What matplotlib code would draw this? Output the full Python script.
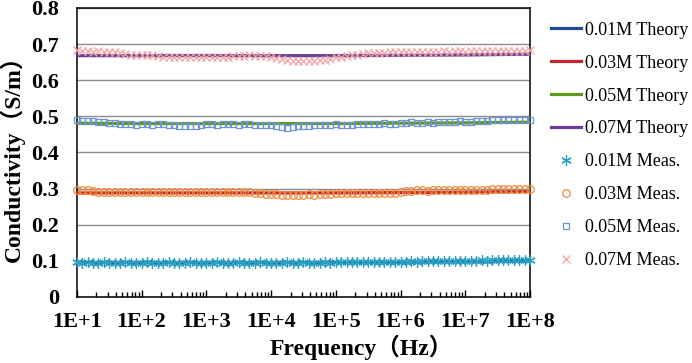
"""
Conductivity vs frequency: theory lines and measured points for four concentrations.
"""

import matplotlib

matplotlib.use("Agg")
import matplotlib.pyplot as plt
import numpy as np

SERIF = ["Liberation Serif", "Noto Sans CJK SC"]

# theory curves, one value per decade (1E+1 ... 1E+8)
theory_freq = [1e1, 1e2, 1e3, 1e4, 1e5, 1e6, 1e7, 1e8]
theory_001 = [0.095, 0.095, 0.095, 0.095, 0.095, 0.096, 0.097, 0.099]
theory_003 = [0.288, 0.288, 0.288, 0.288, 0.288, 0.289, 0.290, 0.292]
theory_005 = [0.481, 0.480, 0.480, 0.480, 0.480, 0.481, 0.482, 0.484]
theory_007 = [0.668, 0.668, 0.668, 0.668, 0.668, 0.669, 0.670, 0.672]

# measured sweep: 12 points per decade, 1E+1 to 1E+8
meas_freq = np.logspace(1, 8, 85)

meas_001 = [
    0.097,
    0.095, 0.096, 0.095, 0.095, 0.096, 0.095, 0.095, 0.095, 0.096, 0.095,
    0.095, 0.095, 0.096, 0.095, 0.095, 0.095, 0.096, 0.095, 0.095, 0.095,
    0.096, 0.095, 0.095, 0.095, 0.095, 0.096, 0.095, 0.095, 0.095, 0.096,
    0.095, 0.095, 0.095, 0.096, 0.095, 0.095, 0.095, 0.095, 0.096, 0.095,
    0.095, 0.096, 0.095, 0.095, 0.095, 0.096, 0.095, 0.096, 0.096,
    0.097, 0.097, 0.097, 0.097, 0.098, 0.097, 0.098, 0.098, 0.098, 0.098,
    0.098, 0.098, 0.099, 0.098, 0.099, 0.099, 0.099, 0.099, 0.099, 0.099,
    0.100, 0.100, 0.100, 0.100, 0.100, 0.101, 0.100, 0.101, 0.101, 0.101,
    0.101, 0.101, 0.101, 0.101, 0.102,
]
meas_003 = [
    0.296,
    0.296, 0.295, 0.293,
    0.291, 0.291, 0.290, 0.291, 0.291, 0.290, 0.291, 0.291, 0.291, 0.290,
    0.291, 0.291, 0.290, 0.291, 0.291, 0.291, 0.290, 0.291, 0.291, 0.290,
    0.291, 0.291, 0.290, 0.291, 0.290, 0.290, 0.291, 0.290, 0.290, 0.289,
    0.288,
    0.286, 0.285, 0.284, 0.283, 0.283, 0.282, 0.283, 0.283, 0.284, 0.283,
    0.284, 0.285, 0.286,
    0.287, 0.287, 0.288, 0.287, 0.288, 0.288, 0.287, 0.288, 0.288, 0.288,
    0.289, 0.289, 0.290,
    0.294, 0.294, 0.295, 0.295, 0.294, 0.295, 0.295, 0.295, 0.296, 0.295,
    0.295, 0.296, 0.296, 0.296, 0.296, 0.297,
    0.298, 0.298, 0.299, 0.298, 0.299, 0.299, 0.299, 0.300,
]
meas_005 = [
    0.490,
    0.488, 0.487, 0.486, 0.485,
    0.483, 0.482, 0.481, 0.480,
    0.478, 0.478, 0.477, 0.478, 0.478, 0.477, 0.478, 0.478, 0.477, 0.477,
    0.474, 0.473, 0.473, 0.474,
    0.477, 0.478, 0.478, 0.477, 0.478, 0.478, 0.478, 0.477, 0.478, 0.478,
    0.477, 0.477, 0.476,
    0.475, 0.474,
    0.470, 0.469, 0.470,
    0.473, 0.474, 0.474, 0.475, 0.476,
    0.477, 0.477, 0.478, 0.477, 0.477, 0.477,
    0.479, 0.480, 0.480, 0.480, 0.480, 0.481, 0.480, 0.480,
    0.482, 0.482, 0.483, 0.482, 0.482, 0.483, 0.482, 0.483, 0.483,
    0.485, 0.485, 0.486, 0.485, 0.485, 0.486, 0.486, 0.486,
    0.489, 0.489, 0.490, 0.489, 0.490, 0.490, 0.490, 0.491,
]
meas_007 = [
    0.683,
    0.680, 0.681, 0.679, 0.680, 0.678, 0.679, 0.677, 0.676,
    0.672, 0.671, 0.670, 0.671, 0.670, 0.669, 0.668,
    0.665, 0.664, 0.664, 0.665, 0.664, 0.663, 0.664, 0.665, 0.664, 0.664,
    0.665, 0.664, 0.665, 0.666, 0.667,
    0.668, 0.669, 0.668, 0.668, 0.667, 0.665, 0.662,
    0.658, 0.655, 0.653, 0.652, 0.652, 0.653, 0.654, 0.655, 0.657,
    0.660, 0.663, 0.665, 0.667, 0.669, 0.671,
    0.673, 0.674, 0.675, 0.676, 0.676, 0.677, 0.677, 0.678, 0.678, 0.677,
    0.678, 0.679, 0.678, 0.679, 0.679, 0.680, 0.679, 0.680, 0.680, 0.679,
    0.680, 0.681, 0.680, 0.681, 0.680, 0.681, 0.681, 0.682, 0.681, 0.682,
    0.682, 0.684,
]

theory_labels = ["0.01M Theory", "0.03M Theory", "0.05M Theory", "0.07M Theory"]
meas_labels = ["0.01M Meas.", "0.03M Meas.", "0.05M Meas.", "0.07M Meas."]
theory_colors = ["#1f4e96", "#c0282d", "#5b9a1e", "#6a3d98"]
meas_colors = ["#2aa0c4", "#f2893a", "#6e93d6", "#f2a2a2"]
meas_markers = [(6, 2, 0), "o", "s", "x"]
meas_sizes = [7.5, 5.5, 4.5, 6]

yticks = [0, 0.1, 0.2, 0.3, 0.4, 0.5, 0.6, 0.7, 0.8]
ytick_labels = ["0", "0.1", "0.2", "0.3", "0.4", "0.5", "0.6", "0.7", "0.8"]
xticks = [1e1, 1e2, 1e3, 1e4, 1e5, 1e6, 1e7, 1e8]
xtick_labels = ["1E+1", "1E+2", "1E+3", "1E+4", "1E+5", "1E+6", "1E+7", "1E+8"]


def main() -> None:
    fig = plt.figure(figsize=(6.92, 3.63), dpi=100)
    ax = fig.add_axes([0.111, 0.182, 0.655, 0.796])

    theory = [theory_001, theory_003, theory_005, theory_007]
    meas = [meas_001, meas_003, meas_005, meas_007]

    for values, color, label in zip(theory, theory_colors, theory_labels):
        ax.plot(theory_freq, values, color=color, lw=2.3, label=label, zorder=3)

    for values, color, marker, size, label in zip(meas, meas_colors, meas_markers, meas_sizes, meas_labels):
        ax.plot(
            meas_freq, values, ls="none", marker=marker, ms=size, mfc="none",
            mec=color, mew=0.9, label=label, zorder=4, clip_on=False,
        )

    ax.set_xscale("log")
    ax.set_xlim(1e1, 1e8)
    ax.set_ylim(0, 0.8)
    ax.set_yticks(yticks)
    ax.set_yticklabels(ytick_labels, fontfamily=SERIF, fontweight="bold", fontsize=16)
    ax.set_xticks(xticks)
    ax.set_xticklabels(xtick_labels, fontfamily=SERIF, fontweight="bold", fontsize=16)
    ax.tick_params(axis="y", length=0, pad=13)
    ax.tick_params(axis="x", which="major", direction="in", length=5, width=1, pad=11, color="black")
    ax.tick_params(axis="x", which="minor", direction="in", length=3.5, width=1, color="black")
    ax.yaxis.grid(True, color="#8c8c8c", lw=1)
    ax.set_axisbelow(True)
    for spine in ax.spines.values():
        spine.set_color("black")
        spine.set_linewidth(1.1)

    ax.set_xlabel("Frequency（Hz）", fontfamily=SERIF, fontweight="bold", fontsize=17)
    ax.xaxis.set_label_coords(0.627, -0.13)
    ax.set_ylabel("Conductivity（S/m）", fontfamily=SERIF, fontweight="bold", fontsize=17, labelpad=4)

    fig.legend(
        loc="upper left", bbox_to_anchor=(0.786, 0.96), frameon=False,
        prop={"family": SERIF, "size": 13}, handlelength=1.65, handletextpad=0.25,
        labelspacing=0.88, borderaxespad=0,
    )

    fig.savefig("out.png", dpi=100)
    plt.close(fig)


if __name__ == "__main__":
    main()
